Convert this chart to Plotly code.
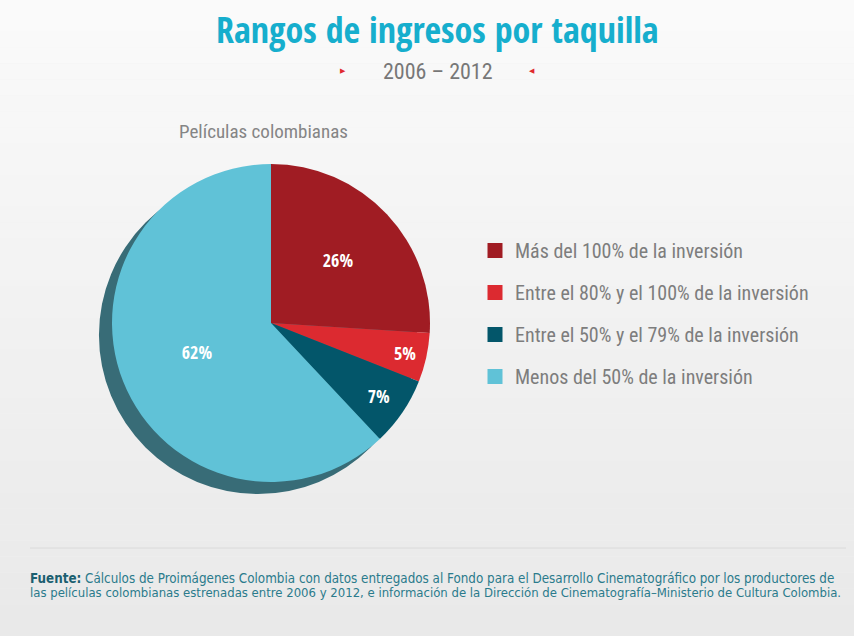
import plotly.graph_objects as go

categories = ["Más del 100% de la inversión",
              "Entre el 80% y el 100% de la inversión",
              "Entre el 50% y el 79% de la inversión",
              "Menos del 50% de la inversión"]
values = [26, 5, 7, 62]
colors = ["#a01c23", "#dc2a30", "#03566a", "#60c2d7"]

W, H = 854, 636
BOLD = "Open Sans Condensed, Roboto Condensed, sans-serif"
LIGHT = "Roboto Condensed, sans-serif"
FOOT = "DejaVu Sans Condensed, sans-serif"

def dom(cx, cy, r):
    return dict(x=[(cx - r) / W, (cx + r) / W], y=[1 - (cy + r) / H, 1 - (cy - r) / H])

def ann(text, x, y, size, color, family, xanchor="center"):
    return dict(text=text, x=x / W, y=1 - y / H, xref="paper", yref="paper",
                xanchor=xanchor, yanchor="middle", align="left", showarrow=False,
                font=dict(family=family, size=size, color=color))

fig = go.Figure()
# shadow disc
fig.add_trace(go.Pie(values=[1], marker=dict(colors=["#386c77"], line=dict(width=0)),
                     domain=dom(258, 335, 159), showlegend=False, textinfo="none",
                     hoverinfo="skip", sort=False))
fig.add_trace(go.Pie(labels=categories, values=values, sort=False, direction="clockwise",
                     rotation=0, marker=dict(colors=colors, line=dict(width=0)),
                     domain=dom(271, 323, 159), showlegend=False,
                     texttemplate="%{percent:.0%}", textposition="inside",
                     insidetextorientation="horizontal",
                     textfont=dict(family=BOLD, size=18, color="white"),
                     hoverinfo="label+percent"))
# legend entries
for name, col in zip(categories, colors):
    fig.add_trace(go.Scatter(x=[None], y=[None], mode="markers", name=name, legendgroup=name,
                             marker=dict(symbol="square", size=15, color=col)))

# background gradient bands
shapes = []
N = 40
for i in range(N):
    t = i / (N - 1)
    g = round(250 - (250 - 233) * t)
    shapes.append(dict(type="rect", xref="paper", yref="paper", x0=0, x1=1,
                       y0=1 - (i + 1) / N, y1=1 - i / N, layer="below",
                       line=dict(width=0), fillcolor=f"rgb({g},{g},{g})"))
shapes.append(dict(type="line", xref="paper", yref="paper", x0=30 / W, x1=846 / W,
                   y0=1 - 548 / H, y1=1 - 548 / H, line=dict(color="#dadada", width=1)))

fig.update_layout(
    width=W, height=H, margin=dict(l=0, r=0, t=0, b=0),
    paper_bgcolor="#f1f1f1", plot_bgcolor="rgba(0,0,0,0)",
    xaxis=dict(visible=False, range=[0, 1], fixedrange=True),
    yaxis=dict(visible=False, range=[0, 1], fixedrange=True),
    showlegend=True,
    legend=dict(x=475 / W, y=1 - 231 / H, xanchor="left", yanchor="top",
                font=dict(family=LIGHT, size=20, color="#7d7d7d"),
                bgcolor="rgba(0,0,0,0)", itemclick=False, itemdoubleclick=False,
                tracegroupgap=13),
    annotations=[
        ann("<b>Rangos de ingresos por taquilla</b>", 437, 30, 36, "#16aecd", BOLD),
        ann("2006 – 2012", 438, 72, 22, "#777777", LIGHT),
        ann("▶", 343, 71, 7, "#e02a2f", "DejaVu Sans"),
        ann("◀", 532, 71, 7, "#e02a2f", "DejaVu Sans"),
        ann("Películas colombianas", 263, 131, 19, "#858585", LIGHT),
        ann("<b style='color:#1b5f70'>Fuente:</b> Cálculos de Proimágenes Colombia con datos entregados al Fondo para el Desarrollo Cinematográfico por los productores de",
            28, 578, 13.3, "#2a7b8c", FOOT, xanchor="left"),
        ann("las películas colombianas estrenadas entre 2006 y 2012, e información de la Dirección de Cinematografía–Ministerio de Cultura Colombia.",
            28, 592, 13, "#2a7b8c", FOOT, xanchor="left"),
    ],
    shapes=shapes,
)

fig.write_html("out.html", config={"displayModeBar": False},
               post_script="document.body.style.margin='0';")
